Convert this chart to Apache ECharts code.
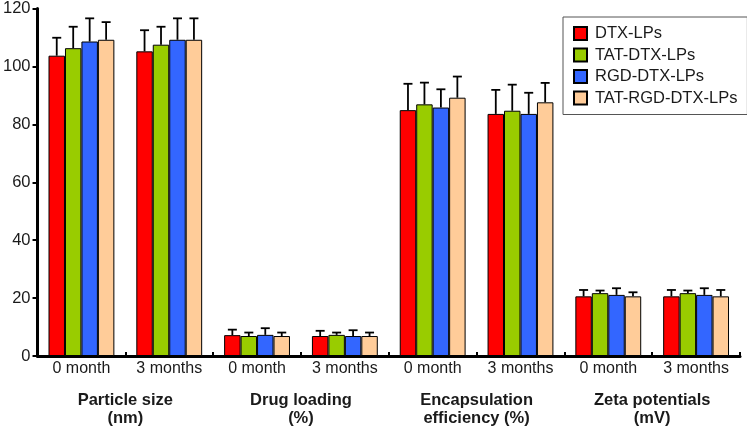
<!DOCTYPE html>
<html>
<head>
<meta charset="utf-8">
<script src="https://cdn.jsdelivr.net/npm/echarts@6/dist/echarts.min.js"></script>
<style>html,body{margin:0;padding:0;background:#fff}#c{width:747px;height:430px}</style>
</head>
<body>
<div id="c"></div>
<script>
var categories = ['0 month','3 months','0 month','3 months','0 month','3 months','0 month','3 months'];
var groups = ['Particle size\n(nm)','Drug loading\n(%)','Encapsulation\nefficiency (%)','Zeta potentials\n(mV)'];
var seriesNames = ['DTX-LPs','TAT-DTX-LPs','RGD-DTX-LPs','TAT-RGD-DTX-LPs'];
var colors = ['#ff0000','#99cc00','#3366ff','#ffcc99'];

var dtx    = [103.7,105.2, 7.2,6.9, 84.9,83.6, 20.6,20.6];
var dtxSD  = [6.2,7.3, 1.9,1.8, 9.1,8.3, 2.2,2.2];
var tat    = [106.3,107.5, 6.9,7.3, 86.9,84.7, 21.7,21.7];
var tatSD  = [7.4,6.2, 1.2,0.8, 7.5,9.0, 0.9,0.9];
var rgd    = [108.6,109.2, 7.3,6.9, 85.8,83.6, 21.1,21.1];
var rgdSD  = [8.0,7.4, 2.3,2.0, 6.3,7.3, 2.3,2.3];
var trgd   = [109.2,109.2, 6.9,6.9, 89.2,87.6, 20.6,20.6];
var trgdSD = [6.1,7.4, 1.2,1.2, 7.3,6.7, 1.4,2.2];

var yTicks = {min:0, max:120, interval:20};

var means = [dtx, tat, rgd, trgd];
var sds = [dtxSD, tatSD, rgdSD, trgdSD];
var FONT = 'Liberation Sans, Arial, Helvetica, sans-serif';
var GAP = 0.25;

var series = [];
means.forEach(function(m, k){
  series.push({
    name: seriesNames[k], type: 'bar', data: m,
    barGap: '0%', barCategoryGap: (GAP*100)+'%',
    itemStyle: {color: colors[k], borderColor: '#000', borderWidth: 1},
    z: 2
  });
});
means.forEach(function(m, k){
  series.push({
    name: 'err' + k, type: 'custom',
    data: m.map(function(v, i){ return [i, v, sds[k][i]]; }),
    encode: {x: 0, y: 1},
    z: 3,
    renderItem: function(params, api){
      var x = api.value(0), v = api.value(1), sd = api.value(2);
      var p = api.coord([x, v]);
      var t = api.coord([x, v + sd]);
      var band = api.size([1, 0])[0];
      var bw = band * (1 - GAP) / 4;
      var cx = p[0] + (k - 1.5) * bw;
      var st = {stroke: '#000', lineWidth: 1.8};
      return {type: 'group', children: [
        {type: 'line', shape: {x1: cx, y1: p[1], x2: cx, y2: t[1]}, style: st},
        {type: 'line', shape: {x1: cx - 4.5, y1: t[1], x2: cx + 4.5, y2: t[1]}, style: st}
      ]};
    }
  });
});

var chart = echarts.init(document.getElementById('c'));
chart.setOption({
  animation: false,
  textStyle: {fontFamily: FONT},
  grid: {left: 33, right: 7, top: 6, bottom: 74, containLabel: false},
  legend: {
    data: seriesNames, orient: 'vertical', left: 563, top: 17,
    itemWidth: 13, itemHeight: 13, itemGap: 4.5,
    padding: [8, 10, 8, 10],
    borderColor: '#555', borderWidth: 1, backgroundColor: '#fff',
    textStyle: {fontSize: 16.5, color: '#1a1a1a', fontFamily: FONT, padding: [0,0,0,3]},
    icon: 'rect'
  },
  xAxis: [{
    type: 'category', data: categories, position: 'bottom',
    axisLine: {lineStyle: {color: '#000', width: 3}},
    axisTick: {show: true, inside: true, length: 4, interval: 0, lineStyle: {color: '#000', width: 2}},
    axisLabel: {fontSize: 16, color: '#1a1a1a', margin: 5, interval: 0, fontFamily: FONT}
  }, {
    type: 'category', data: groups, position: 'bottom', offset: 30,
    axisLine: {show: false}, axisTick: {show: false},
    axisLabel: {fontSize: 16.5, fontWeight: 'bold', color: '#1a1a1a', lineHeight: 18, margin: 5, interval: 0, fontFamily: FONT}
  }],
  yAxis: {
    type: 'value', min: yTicks.min, max: yTicks.max, interval: yTicks.interval,
    splitLine: {show: false},
    axisLine: {show: true, lineStyle: {color: '#000', width: 3}},
    axisTick: {show: true, length: 5, lineStyle: {color: '#000', width: 2}},
    axisLabel: {fontSize: 16.5, color: '#1a1a1a', margin: 7, fontFamily: FONT}
  },
  series: series
});
</script>
</body>
</html>
